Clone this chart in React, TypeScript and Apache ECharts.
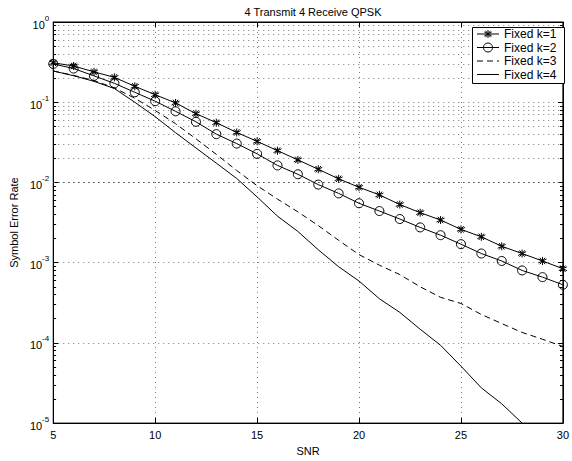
import React, { useEffect, useRef } from "react";
import * as echarts from "echarts";

const snr = [5, 6, 7, 8, 9, 10, 11, 12, 13, 14, 15, 16, 17, 18, 19, 20, 21, 22, 23, 24, 25, 26, 27, 28, 29, 30];
const k1 = [0.31, 0.283, 0.239, 0.204, 0.158, 0.124, 0.098, 0.072, 0.0556, 0.042, 0.0325, 0.0249, 0.0191, 0.0146, 0.0111, 0.0087, 0.007, 0.0053, 0.0042, 0.0034, 0.0026, 0.0021, 0.0016, 0.0013, 0.00105, 0.00084];
const k2 = [0.3, 0.263, 0.213, 0.172, 0.133, 0.103, 0.077, 0.057, 0.04, 0.0305, 0.0227, 0.0163, 0.01265, 0.0094, 0.0073, 0.0055, 0.0044, 0.0035, 0.00275, 0.0022, 0.0017, 0.0013, 0.00105, 0.0008, 0.00066, 0.00053];
const k3 = [0.245, 0.216, 0.186, 0.151, 0.112, 0.079, 0.054, 0.035, 0.0224, 0.0141, 0.0091, 0.0062, 0.0043, 0.0029, 0.0019, 0.00126, 0.00093, 0.00071, 0.0005, 0.00037, 0.00031, 0.000226, 0.000174, 0.000135, 0.000111, 0.00009];
const k4 = [0.245, 0.214, 0.182, 0.148, 0.1, 0.066, 0.0417, 0.0269, 0.0174, 0.0112, 0.0066, 0.0038, 0.00245, 0.00145, 0.00089, 0.00059, 0.000355, 0.00024, 0.000148, 0.0000933, 0.0000513, 0.0000275, 0.0000174, 0.00001];
const seriesNames = ["Fixed k=1", "Fixed k=2", "Fixed k=3", "Fixed k=4"];
const titleText = "4 Transmit 4 Receive QPSK";
const xName = "SNR";
const yName = "Symbol Error Rate";

const FONT = "Liberation Sans, Arial, Helvetica, sans-serif";
const STAR = "path://M0,-5L0,5M-4.6,-2.4L4.6,2.4M-4.6,2.4L4.6,-2.4M-3,-4L3,4M-3,4L3,-4";

export default function App() {
  const ref = useRef<HTMLDivElement>(null);
  useEffect(() => {
    document.body.style.margin = "0";
    const chart = echarts.init(ref.current!, null, { renderer: "svg" });
    const pairs = (ys: number[]) => ys.map((y, i) => [snr[i], y]);

    const minorVals: number[] = [];
    for (let e = -5; e < 0; e++) {
      for (let m = 2; m <= 9; m++) minorVals.push(m * Math.pow(10, e));
    }
    const gridDots = { color: "#555", width: 1, type: [1, 4] as any, opacity: 0.8 };
    const minorGrid = minorVals.map((v) => ({ yAxis: v }));
    const minorTicks: any[] = [];
    minorVals.forEach((v) => {
      minorTicks.push([{ coord: [5, v] }, { coord: [5.14, v] }]);
      minorTicks.push([{ coord: [29.86, v] }, { coord: [30, v] }]);
    });

    const yLabelFmt = (v: number) => {
      const e = Math.round(Math.log10(v));
      return `{b|10}{s|${e}}`;
    };
    const yRich = {
      b: { fontSize: 11, fontFamily: FONT, color: "#000", lineHeight: 16, verticalAlign: "bottom" },
      s: { fontSize: 8, fontFamily: FONT, color: "#000", lineHeight: 16, verticalAlign: "top" },
    };

    // legend drawn with graphic elements
    const LX = 472, LY = 27, LW = 92, LH = 56;
    const rowY = [34, 47.5, 61, 74.5];
    const lx0 = 477, lx1 = 499, mx = 488;
    const stroke = { stroke: "#000", lineWidth: 1 };
    const legendEls: any[] = [
      { type: "rect", shape: { x: LX + 0.5, y: LY + 0.5, width: LW, height: LH }, style: { fill: "#fff", stroke: "#000", lineWidth: 1 }, z: 100 },
    ];
    seriesNames.forEach((n, i) => {
      const y = rowY[i];
      legendEls.push({
        type: "line",
        shape: { x1: lx0, y1: y, x2: lx1, y2: y },
        style: { ...stroke, lineDash: i === 2 ? [6, 4] : null },
        z: 101,
      });
      legendEls.push({
        type: "text",
        x: 504,
        y,
        style: { text: n, fontSize: 12, fontFamily: FONT, fill: "#000", verticalAlign: "middle", align: "left" },
        z: 101,
      });
    });
    [[0, -4, 0, 4], [-3.7, -2, 3.7, 2], [-3.7, 2, 3.7, -2], [-2.4, -3.2, 2.4, 3.2], [-2.4, 3.2, 2.4, -3.2]].forEach((s) => {
      legendEls.push({ type: "line", shape: { x1: mx + s[0], y1: rowY[0] + s[1], x2: mx + s[2], y2: rowY[0] + s[3] }, style: stroke, z: 102 });
    });
    legendEls.push({ type: "circle", shape: { cx: mx, cy: rowY[1], r: 4.5 }, style: { fill: "none", stroke: "#000", lineWidth: 1 }, z: 102 });

    chart.setOption({
      animation: false,
      backgroundColor: "#fff",
      title: {
        text: titleText,
        left: 308,
        textAlign: "center",
        top: 1,
        textStyle: { fontSize: 11, fontWeight: "normal", fontFamily: FONT, color: "#000" },
      },
      graphic: legendEls,
      grid: { left: 50, top: 22, width: 517, height: 407, show: true, borderColor: "#000", borderWidth: 1, backgroundColor: "transparent" },
      xAxis: [
        {
          type: "value",
          min: 5,
          max: 30,
          interval: 5,
          name: xName,
          nameLocation: "middle",
          nameGap: 17,
          nameTextStyle: { fontSize: 11, fontFamily: FONT, color: "#000" },
          axisLine: { show: true, lineStyle: { color: "#000" } },
          axisTick: { show: true, inside: true, length: 5, lineStyle: { color: "#000" } },
          axisLabel: { fontSize: 11, fontFamily: FONT, color: "#000", margin: 6 },
          splitLine: { show: true, lineStyle: gridDots },
        },
        {
          type: "value",
          position: "top",
          min: 5,
          max: 30,
          interval: 5,
          axisLine: { show: true, lineStyle: { color: "#000" } },
          axisTick: { show: true, inside: true, length: 5, lineStyle: { color: "#000" } },
          axisLabel: { show: false },
          splitLine: { show: false },
        },
      ],
      yAxis: [
        {
          type: "log",
          logBase: 10,
          min: 1e-5,
          max: 1,
          name: yName,
          nameLocation: "middle",
          nameGap: 34,
          nameRotate: 90,
          nameTextStyle: { fontSize: 11, fontFamily: FONT, color: "#000" },
          axisLine: { show: true, lineStyle: { color: "#000" } },
          axisTick: { show: true, inside: true, length: 5, lineStyle: { color: "#000" } },
          axisLabel: { formatter: yLabelFmt, rich: yRich, margin: 4 },
          splitLine: { show: true, lineStyle: gridDots },
        },
        {
          type: "log",
          logBase: 10,
          min: 1e-5,
          max: 1,
          position: "right",
          axisLine: { show: true, lineStyle: { color: "#000" } },
          axisTick: { show: true, inside: true, length: 5, lineStyle: { color: "#000" } },
          axisLabel: { show: false },
          splitLine: { show: false },
        },
      ],
      series: [
        {
          name: seriesNames[0],
          type: "line",
          data: pairs(k1),
          symbol: STAR,
          symbolSize: 8,
          showSymbol: true,
          itemStyle: { color: "#000", borderColor: "#000", borderWidth: 1 },
          lineStyle: { color: "#000", width: 1 },
          markLine: {
            silent: true,
            symbol: "none",
            label: { show: false },
            lineStyle: gridDots,
            data: minorGrid,
          },
          z: 5,
        },
        {
          name: seriesNames[1],
          type: "line",
          data: pairs(k2),
          symbol: "circle",
          symbolSize: 9,
          itemStyle: { color: "rgba(0,0,0,0)", borderColor: "#000", borderWidth: 1 },
          lineStyle: { color: "#000", width: 1 },
          markLine: {
            silent: true,
            symbol: "none",
            label: { show: false },
            lineStyle: { color: "#000", width: 1, type: "solid" },
            data: minorTicks,
          },
          z: 5,
        },
        {
          name: seriesNames[2],
          type: "line",
          data: pairs(k3),
          symbol: "none",
          itemStyle: { color: "#000" },
          lineStyle: { color: "#000", width: 1, type: [6, 4] },
          z: 5,
        },
        {
          name: seriesNames[3],
          type: "line",
          data: pairs(k4),
          symbol: "none",
          itemStyle: { color: "#000" },
          lineStyle: { color: "#000", width: 1 },
          z: 5,
        },
      ],
    });
    return () => chart.dispose();
  }, []);
  return <div ref={ref} style={{ width: 572, height: 461 }} />;
}
